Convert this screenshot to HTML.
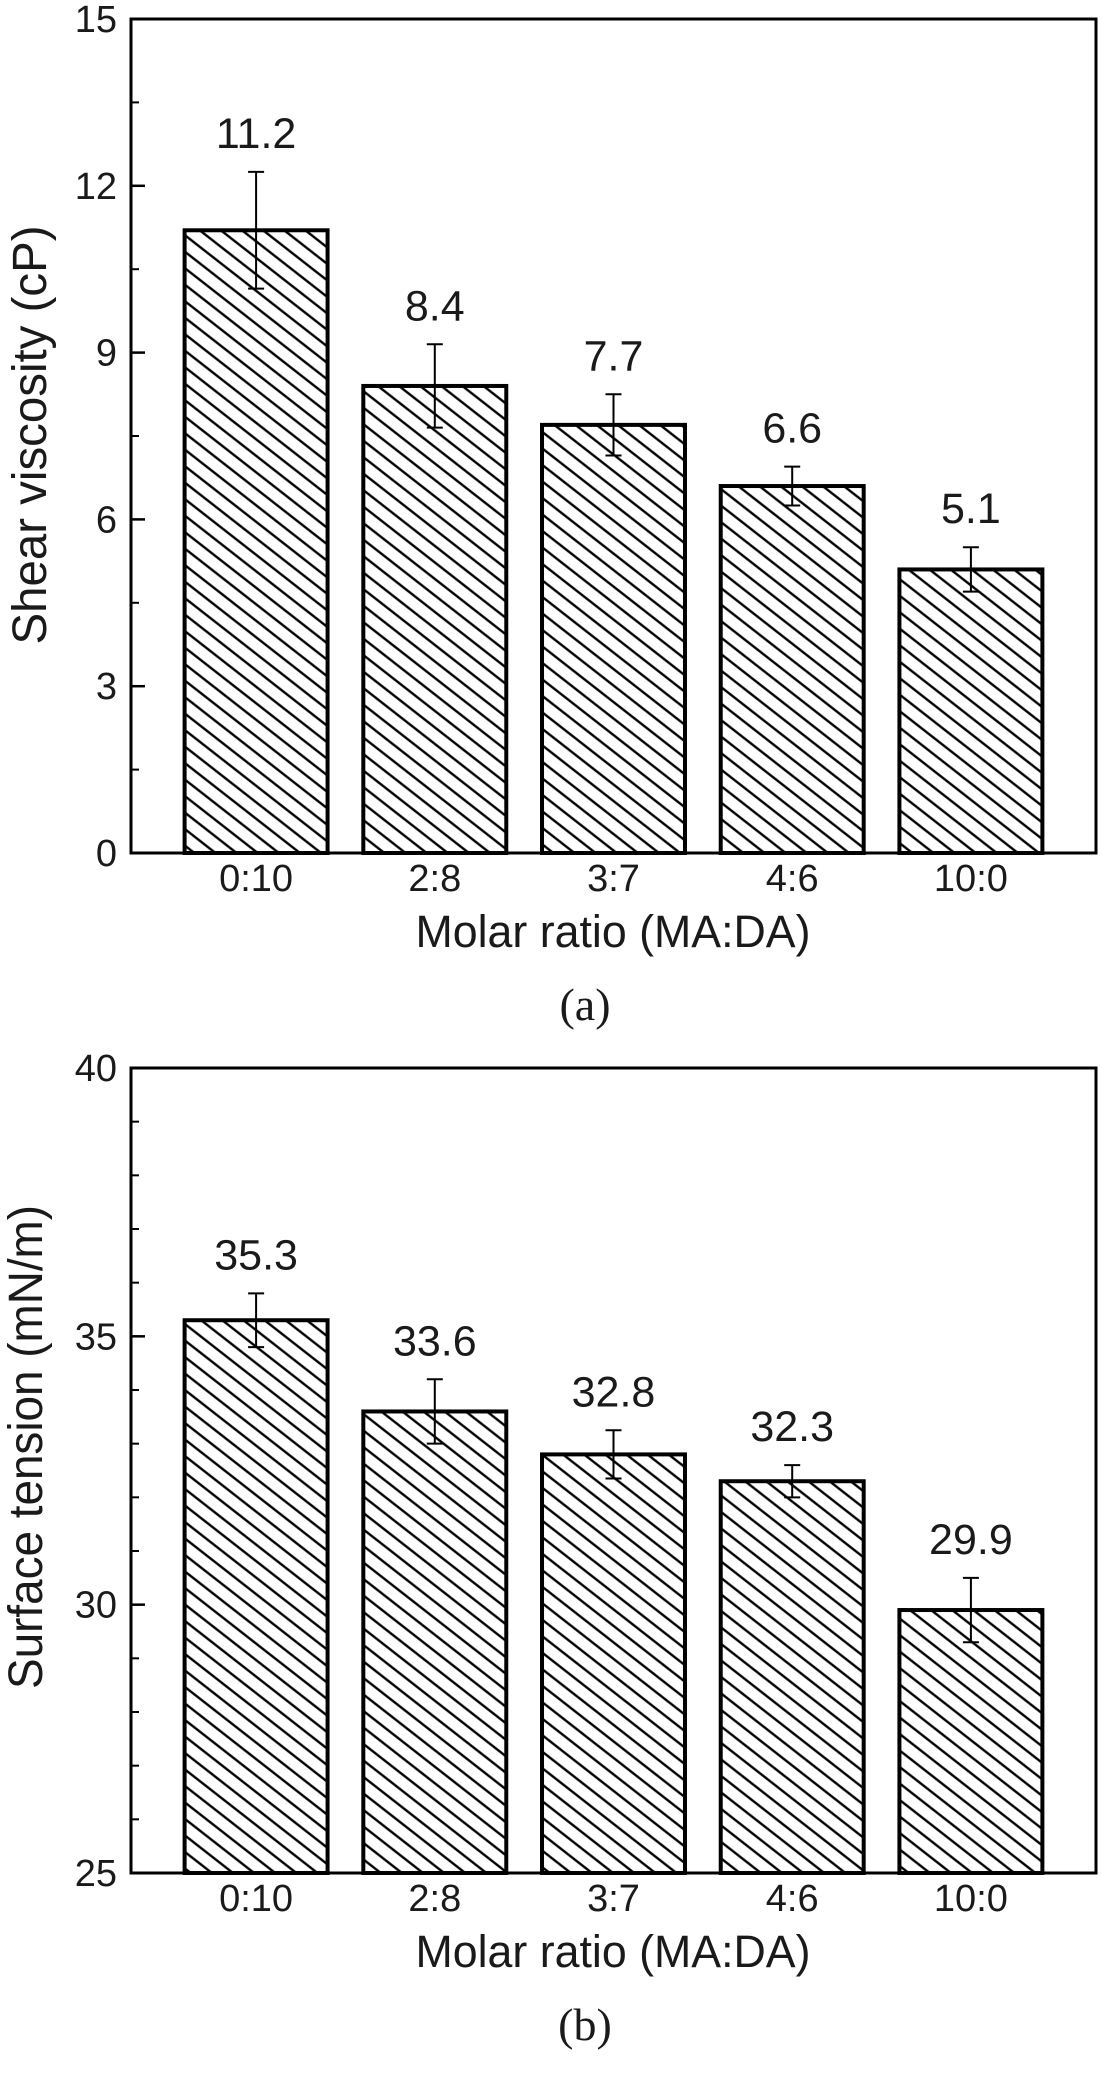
<!DOCTYPE html>
<html><head><meta charset="utf-8"><style>
html,body{margin:0;padding:0;background:#fff}
svg{display:block}
text{font-family:"Liberation Sans",Arial,sans-serif;fill:#1a1a1a}
</style></head><body>
<svg id="fig" width="1102" height="2085" viewBox="0 0 1102 2085" xmlns="http://www.w3.org/2000/svg">
<defs>
<pattern id="hatch" patternUnits="userSpaceOnUse" width="13" height="13" patternTransform="rotate(38)">
<rect width="13" height="13" fill="#fff"/>
<line x1="0" y1="6.5" x2="13" y2="6.5" stroke="#000" stroke-width="2.4"/>
</pattern>
</defs>
</svg>
<script>
const categories = ["0:10","2:8","3:7","4:6","10:0"];
const viscValues = [11.2,8.4,7.7,6.6,5.1];
const viscErrors = [1.05,0.75,0.55,0.35,0.4];
const viscTicks = [0,3,6,9,12,15];
const tensionValues = [35.3,33.6,32.8,32.3,29.9];
const tensionErrors = [0.5,0.6,0.45,0.3,0.6];
const tensionTicks = [25,30,35,40];

const NS = "http://www.w3.org/2000/svg";
const svg = document.getElementById('fig');
function mk(tag, attrs, parent){
  const e = document.createElementNS(NS, tag);
  for (const k in attrs) e.setAttribute(k, attrs[k]);
  (parent||svg).appendChild(e);
  return e;
}

function drawChart(cfg){
  const g = mk('g', {});
  
  
  const L=131, R=1096, T=cfg.top, B=cfg.bottom;
  const xMin=0.3, xMax=5.7;
  const xs = i => L + ((i+1)-xMin)/(xMax-xMin)*(R-L);
  const ys = v => B - (v-cfg.yMin)/(cfg.yMax-cfg.yMin)*(B-T);
  const bw = 0.8/(xMax-xMin)*(R-L);

  categories.forEach((c,i)=>{
    const v = cfg.values[i], e = cfg.errors[i], cx = xs(i);
    const bar = mk('rect', {x:cx-bw/2, y:ys(v), width:bw, height:B-ys(v), fill:'url(#hatch)', stroke:'#000', 'stroke-width':4}, g);
    
    
    const eb = mk('path', {d:`M${cx},${ys(v+e)}V${ys(v-e)}M${cx-8},${ys(v+e)}H${cx+8}M${cx-8},${ys(v-e)}H${cx+8}`, stroke:'#000','stroke-width':2, fill:'none'}, g);
    
    
    const vl = mk('text', {x:cx, y:ys(v+e)-24, 'text-anchor':'middle', 'font-size':43}, g);
    vl.textContent = v.toFixed(1);
    
    
    const tl = mk('text', {x:cx, y:B+38, 'text-anchor':'middle', 'font-size':38}, g);
    tl.textContent = c;
    
    
  });

  const fr = mk('rect', {x:L, y:T, width:R-L, height:B-T, fill:'none', stroke:'#000', 'stroke-width':3}, g);
  
  

  for (let v=cfg.yMin; v<=cfg.yMax; v+=cfg.minor){
    const t = mk('line', {x1:L, x2:L+8, y1:ys(v), y2:ys(v), stroke:'#000','stroke-width':2}, g);
    
    
  }
  cfg.ticks.forEach(v=>{
    const t = mk('line', {x1:L, x2:L+14, y1:ys(v), y2:ys(v), stroke:'#000','stroke-width':2.5}, g);
    
    
    const tl = mk('text', {x:117, y:ys(v)+13, 'text-anchor':'end', 'font-size':38}, g);
    tl.textContent = v;
    
    
  });

  const yt = mk('text', {x:0, y:0, transform:`translate(${cfg.ytX},${cfg.ytY}) rotate(-90)`, 'text-anchor':'middle', 'font-size':48, textLength:cfg.ytLen, lengthAdjust:'spacingAndGlyphs'}, g);
  yt.textContent = cfg.yTitle;
  
  

  const xt = mk('text', {x:613, y:B+94, 'text-anchor':'middle', 'font-size':45, textLength:395, lengthAdjust:'spacingAndGlyphs'}, g);
  xt.textContent = 'Molar ratio (MA:DA)';
  
  

  const pl = mk('text', {x:585, y:B+167, 'text-anchor':'middle', 'font-size':46, style:'font-family:"Liberation Serif",serif'}, g);
  pl.textContent = cfg.panel;
  
  
}

drawChart({name:'shear-viscosity-chart', top:19, bottom:853, yMin:0, yMax:15, minor:1.5, ticks:viscTicks,
  values:viscValues, errors:viscErrors, yTitle:'Shear viscosity (cP)', ytX:46, ytY:435, ytLen:419, panel:'(a)'});
drawChart({name:'surface-tension-chart', top:1068, bottom:1873, yMin:25, yMax:40, minor:1, ticks:tensionTicks,
  values:tensionValues, errors:tensionErrors, yTitle:'Surface tension (mN/m)', ytX:42, ytY:1447, ytLen:484, panel:'(b)'});
</script>
</body></html>
